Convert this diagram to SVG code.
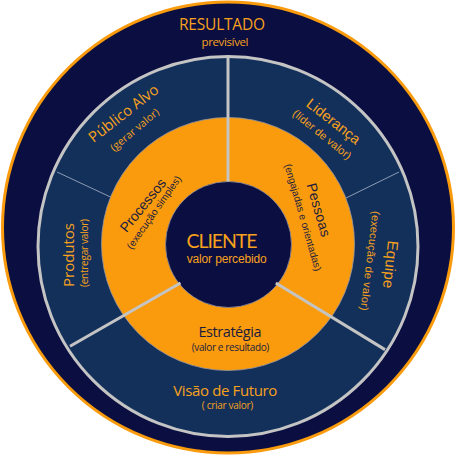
<svg xmlns="http://www.w3.org/2000/svg" width="456" height="455" viewBox="0 0 456 455">
<style>
.o{fill:#f7a11c}
.d{fill:#1b1b3f}
.my{font-family:"Open Sans","Noto Sans","Liberation Sans",sans-serif}
.ar{font-family:"Liberation Sans",Arial,sans-serif}
.la{font-family:Lato,"Open Sans","Liberation Sans",sans-serif}
.thick{stroke:#c4c4c4;stroke-width:3;fill:none}
.thin{stroke:#8d9bb3;stroke-width:1;fill:none}
</style>
<rect width="456" height="455" fill="#ffffff"/>
<g id="resultado">
<circle cx="228" cy="227.5" r="225.5" fill="#0b0e40" stroke="#f99b0c" stroke-width="3"/>
<text class="o my" x="222" y="29.5" font-size="15.5" text-anchor="middle" textLength="86">RESULTADO</text>
<text class="o my" x="225" y="46" font-size="11.5" text-anchor="middle" textLength="47">previsível</text>
</g>
<g id="anel-externo">
<circle cx="228" cy="246.5" r="190" fill="#13305b" stroke="#c4c4c4" stroke-width="3"/>
</g>
<g id="anel-processos">
<circle cx="228" cy="244" r="126.5" fill="#f99b0c" stroke="#9a98a0" stroke-width="0.8"/>
</g>
<g id="cliente">
<circle cx="228.5" cy="244.5" r="63" fill="#0b0e40" stroke="#8f8fa0" stroke-width="0.8"/>
<text class="o la" x="222" y="247.5" font-size="19.5" text-anchor="middle" textLength="71">CLIENTE</text>
<text class="o ar" x="226.7" y="263" font-size="12" text-anchor="middle" textLength="80">valor percebido</text>
</g>
<g id="connectors">
<line class="thick" x1="228" y1="57" x2="228" y2="181.5"/>
<line class="thick" x1="180.5" y1="283" x2="70" y2="346.3"/>
<line class="thick" x1="275.8" y1="283" x2="385" y2="349.6"/>
<line class="thin" x1="57" y1="172" x2="110.5" y2="197"/>
<line class="thin" x1="399" y1="172" x2="346" y2="198"/>
</g>
<g id="publico-alvo">
<text class="o my" font-size="15" text-anchor="middle" transform="translate(126.7,117.5) rotate(-38)" textLength="84">Público Alvo</text>
<text class="o my" font-size="10.5" text-anchor="middle" transform="translate(137,132.5) rotate(-40)" textLength="60">(gerar valor)</text>
</g>
<g id="lideranca">
<text class="o ar" font-size="14.5" text-anchor="middle" transform="translate(330.5,125.3) rotate(38)" textLength="64">Liderança</text>
<text class="o ar" font-size="11" text-anchor="middle" transform="translate(319.7,137.5) rotate(39)" textLength="72">(líder de valor)</text>
</g>
<g id="produtos">
<text class="o my" font-size="15" text-anchor="middle" transform="translate(73.5,255) rotate(-90)" textLength="64">Produtos</text>
<text class="o my" font-size="10" text-anchor="middle" transform="translate(87.5,253) rotate(-90)" textLength="68">(entregar valor)</text>
</g>
<g id="equipe">
<text class="o ar" font-size="15" text-anchor="middle" transform="translate(385.5,264) rotate(96)" textLength="48">Equipe</text>
<text class="o ar" font-size="11" text-anchor="middle" transform="translate(366.5,260.5) rotate(97)" textLength="100">(execução de valor)</text>
</g>
<g id="processos">
<text class="d ar" font-size="14" text-anchor="middle" transform="translate(146.7,208.3) rotate(-51)" textLength="64">Processos</text>
<text class="d ar" font-size="10" text-anchor="middle" transform="translate(156.7,214.3) rotate(-55)" textLength="87">(execução simples)</text>
</g>
<g id="pessoas">
<text class="d ar" font-size="14" text-anchor="middle" transform="translate(314,211.3) rotate(74)" textLength="55">Pessoas</text>
<text class="d ar" font-size="10" text-anchor="middle" transform="translate(299.7,218.3) rotate(74)" textLength="111">(engajadas e orientadas)</text>
</g>
<g id="estrategia">
<text class="d my" x="230" y="336.7" font-size="14.5" text-anchor="middle" textLength="63">Estratégia</text>
<text class="d my" x="230.5" y="350.7" font-size="10" text-anchor="middle" textLength="77.6">(valor e resultado)</text>
</g>
<g id="visao-de-futuro">
<text class="o my" x="225.3" y="395.5" font-size="15" text-anchor="middle" textLength="104">Visão de Futuro</text>
<text class="o my" x="227.5" y="409" font-size="10" text-anchor="middle" textLength="51.6">( criar valor)</text>
</g>
</svg>
